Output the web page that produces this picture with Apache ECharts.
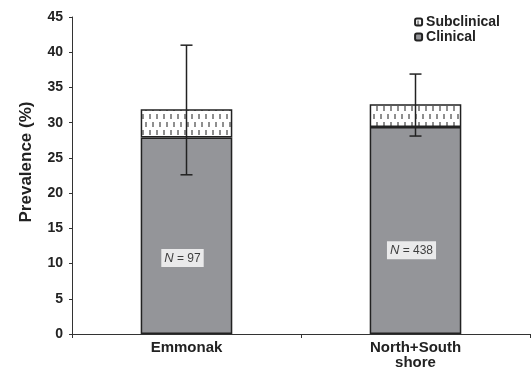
<!DOCTYPE html>
<html><head><meta charset="utf-8">
<script src="https://cdn.jsdelivr.net/npm/echarts@6/dist/echarts.min.js"></script>
<style>html,body{margin:0;padding:0;background:#fff}#c{width:531px;height:370px}</style>
</head><body><div id="c"></div>
<script>
const categories = ['Emmonak', 'North+South\nshore'];
const clinical = [27.9, 29.4];
const subclinical = [4.0, 3.2];
const errLow = [22.6, 28.1];
const errHigh = [41.0, 36.9];
const nLabels = ['97', '438'];
const nLabelY = [10.8, 11.9];
const yTicks = [0, 5, 10, 15, 20, 25, 30, 35, 40, 45];

const pc = document.createElement('canvas');
pc.width = 14; pc.height = 16;
const g = pc.getContext('2d');
g.fillStyle = '#fff'; g.fillRect(0, 0, 14, 16);
g.fillStyle = '#8f8f8f';
g.fillRect(2, 2, 2, 5); g.fillRect(9, 2, 2, 5);
g.fillRect(5, 10, 2, 5); g.fillRect(12, 10, 2, 5);

const chart = echarts.init(document.getElementById('c'), null, {renderer: 'canvas'});
const F = 'Liberation Sans, Arial, sans-serif';
chart.setOption({
  animation: false,
  textStyle: {fontFamily: F},
  grid: {left: 72, right: 1, top: 17, bottom: 34},
  legend: {
    orient: 'vertical', right: 31, top: 15, padding: 0, itemWidth: 7, itemHeight: 7, itemGap: 1,
    data: ['Subclinical', 'Clinical'],
    textStyle: {fontFamily: F, fontWeight: 'bold', fontSize: 14, color: '#222', padding: [0, 0, 0, -1]}
  },
  xAxis: {
    type: 'category', data: categories,
    axisLine: {lineStyle: {color: '#333', width: 1}},
    axisTick: {show: true, length: 4, lineStyle: {color: '#333'}},
    axisLabel: {fontFamily: F, fontWeight: 'bold', fontSize: 15, color: '#222', margin: 6, lineHeight: 15}
  },
  yAxis: {
    type: 'value', min: 0, max: 45, interval: 5,
    axisLine: {show: true, lineStyle: {color: '#333', width: 1}},
    axisTick: {show: true, length: 3, lineStyle: {color: '#333'}},
    splitLine: {show: false},
    axisLabel: {fontFamily: F, fontWeight: 'bold', fontSize: 14, color: '#222', margin: 9,
      formatter: v => yTicks.includes(v) ? String(v) : ''}
  },
  graphic: [{
    type: 'text', x: 26, y: 162, rotation: Math.PI / 2,
    style: {text: 'Prevalence (%)', font: 'bold 17px ' + F, fill: '#222', textAlign: 'center', textVerticalAlign: 'middle'}
  }],
  series: [
    {name: 'Clinical', type: 'bar', stack: 's', barWidth: '40%', data: clinical,
     itemStyle: {color: '#949599', borderColor: '#222', borderWidth: 1.5}},
    {name: 'Subclinical', type: 'bar', stack: 's', barWidth: '40%', data: subclinical,
     itemStyle: {color: {image: pc, repeat: 'repeat'}, borderColor: '#222', borderWidth: 1.5}},
    {name: 'err', type: 'custom', z: 10,
     data: categories.map((c, i) => [i, errLow[i], errHigh[i]]),
     encode: {x: 0, y: [1, 2]},
     renderItem: (params, api) => {
       const lo = api.coord([api.value(0), api.value(1)]);
       const hi = api.coord([api.value(0), api.value(2)]);
       const w = 6;
       const st = {stroke: '#222', lineWidth: 1.5};
       return {type: 'group', children: [
         {type: 'line', shape: {x1: lo[0], y1: lo[1], x2: hi[0], y2: hi[1]}, style: st},
         {type: 'line', shape: {x1: lo[0] - w, y1: lo[1], x2: lo[0] + w, y2: lo[1]}, style: st},
         {type: 'line', shape: {x1: hi[0] - w, y1: hi[1], x2: hi[0] + w, y2: hi[1]}, style: st}
       ]};
     }},
    {name: 'nlab', type: 'scatter', symbolSize: 0, z: 11,
     data: nLabelY.map((y, i) => [i, y]),
     label: {show: true, position: 'inside', offset: [-4, 0],
       backgroundColor: '#fff', padding: [3, 3, 2, 3],
       formatter: p => '{i|N}{t| = ' + nLabels[p.dataIndex] + '}',
       rich: {i: {fontStyle: 'italic', fontSize: 13, fontFamily: F, color: '#111'},
              t: {fontSize: 12, fontFamily: F, color: '#111'}}}}
  ]
});
</script></body></html>
